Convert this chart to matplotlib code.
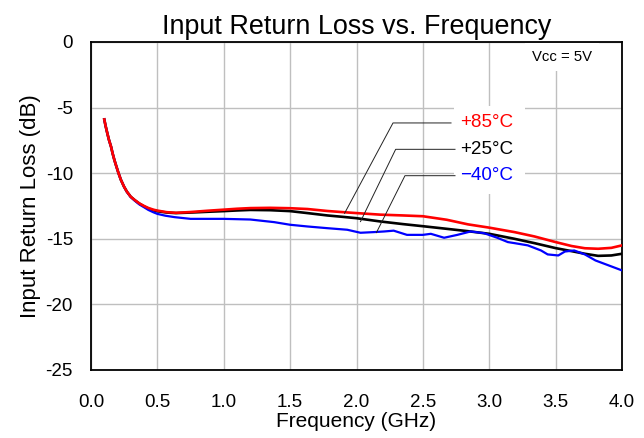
import matplotlib
matplotlib.use("Agg")
import matplotlib.pyplot as plt
from matplotlib.patches import Rectangle

plt.rcParams['font.family'] = ['Liberation Sans', 'DejaVu Sans']

# ---- data ----
freq_rk = [0.10, 0.11, 0.123, 0.135, 0.151, 0.163, 0.176, 0.19, 0.206, 0.225, 0.249, 0.27, 0.299,
           0.33, 0.364, 0.40, 0.432, 0.47, 0.50, 0.57, 0.64,
           0.75, 0.88, 1.00, 1.10, 1.20, 1.35, 1.50, 1.63, 1.78, 1.90, 2.00, 2.18, 2.35,
           2.50, 2.68, 2.84, 3.00, 3.19, 3.34, 3.50, 3.62, 3.72, 3.82, 3.92, 4.00]
rl_85 = [-5.9, -6.4, -6.96, -7.45, -7.98, -8.5, -8.99, -9.45, -9.96, -10.5, -11.03, -11.4, -11.79,
         -12.05, -12.3, -12.5, -12.65, -12.78, -12.85, -12.97, -13.02,
         -12.96, -12.86, -12.78, -12.71, -12.66, -12.64, -12.67, -12.73, -12.88, -12.97, -13.04, -13.16, -13.22,
         -13.28, -13.55, -13.9, -14.15, -14.49, -14.82, -15.25, -15.55, -15.72, -15.76, -15.69, -15.5]
rl_25 = [-5.9, -6.4, -6.96, -7.45, -7.98, -8.5, -8.99, -9.45, -9.96, -10.5, -11.03, -11.4, -11.79,
         -12.06, -12.32, -12.53, -12.7, -12.83, -12.9, -13.0, -13.04,
         -13.0, -12.94, -12.89, -12.84, -12.80, -12.82, -12.89, -13.04, -13.22, -13.33, -13.43, -13.68, -13.88,
         -14.04, -14.24, -14.42, -14.62, -15.0, -15.33, -15.71, -15.94, -16.14, -16.3, -16.27, -16.14]

freq_b = [0.10, 0.11, 0.123, 0.135, 0.151, 0.163, 0.176, 0.19, 0.206, 0.225, 0.249, 0.27, 0.299,
          0.33, 0.364, 0.40, 0.432, 0.47, 0.50, 0.56, 0.63, 0.75,
          1.00, 1.20, 1.38, 1.50, 1.63, 1.78, 1.93, 2.03, 2.13, 2.21, 2.28, 2.38, 2.50,
          2.56, 2.66, 2.76, 2.86, 2.96, 3.06, 3.14, 3.19, 3.29, 3.39, 3.44, 3.52, 3.57,
          3.64, 3.72, 3.80, 3.90, 4.00]
rl_m40 = [-5.9, -6.4, -6.96, -7.45, -7.98, -8.5, -8.99, -9.45, -9.96, -10.5, -11.03, -11.42, -11.82,
          -12.1, -12.38, -12.6, -12.8, -12.98, -13.1, -13.24, -13.35, -13.48,
          -13.48, -13.53, -13.73, -13.93, -14.06, -14.19, -14.31, -14.54, -14.49, -14.44, -14.38, -14.7, -14.7,
          -14.62, -14.92, -14.7, -14.44, -14.57, -14.92, -15.25, -15.33, -15.5, -15.89, -16.19, -16.27, -15.97,
          -15.89, -16.19, -16.65, -17.03, -17.41]

labels = ['+85°C', '+25°C', '\u221240°C']
colors = ['#FF0000', '#000000', '#0000FF']
# annotation anchors: (curve point, elbow, label start) in data units
leader_curve = [(1.91, -13.06), (2.03, -13.69), (2.15, -14.53)]
leader_elbow = [(2.275, -6.17), (2.295, -8.18), (2.365, -10.19)]
leader_end_x = [2.712, 2.742, 2.742]
label_x = 2.78

xticks = [0.0, 0.5, 1.0, 1.5, 2.0, 2.5, 3.0, 3.5, 4.0]
yticks = [0, -5, -10, -15, -20, -25]

fig = plt.figure(figsize=(6.44, 4.38), dpi=100)
fig.subplots_adjust(left=91/644, right=622/644, bottom=1-370/438, top=1-42/438)
ax = fig.add_subplot(111)

ax.set_xlim(0, 4.0)
ax.set_ylim(-25, 0)
ax.set_xticks(xticks)
ax.set_xticklabels([f'{t:.1f}' for t in xticks])
ax.set_yticks(yticks)
ax.set_yticklabels([f'{t:d}' for t in yticks])
ax.tick_params(axis='both', length=0, labelsize=13.5)
ax.tick_params(axis='x', pad=17)
ax.tick_params(axis='y', pad=13)
ax.grid(True, color='#BFBFBF', linewidth=1.0)
ax.set_axisbelow(True)
for s in ax.spines.values():
    s.set_linewidth(1.3)
    s.set_color('black')

ax.plot(freq_rk, rl_25, color=colors[1], lw=1.9, zorder=3)
ax.plot(freq_b, rl_m40, color=colors[2], lw=1.6, zorder=3)
ax.plot(freq_rk, rl_85, color=colors[0], lw=1.9, zorder=4)

ax.set_title('Input Return Loss vs. Frequency', fontsize=19.4, pad=6)
ax.set_xlabel('Frequency (GHz)', fontsize=15, labelpad=1)
ax.set_ylabel('Input Return Loss (dB)', fontsize=16, labelpad=3)

# white box behind labels
ax.add_patch(Rectangle((0.684, 0.537), 0.133, 0.268, transform=ax.transAxes,
                       facecolor='white', edgecolor='none', zorder=2))

for lab, col, c, e, ex in zip(labels, colors, leader_curve, leader_elbow, leader_end_x):
    ax.plot([c[0], e[0], ex], [c[1], e[1], e[1]], color='#222222', lw=0.7, zorder=5)
    ax.text(label_x, e[1], lab, color=col, fontsize=13.6, va='center', ha='left', zorder=6)

ax.text(0.887, 0.955, 'Vcc = 5V', transform=ax.transAxes, fontsize=10.7, ha='center', va='center',
        bbox=dict(facecolor='white', edgecolor='none', pad=5), zorder=6)

fig.savefig('out.png', dpi=100)
